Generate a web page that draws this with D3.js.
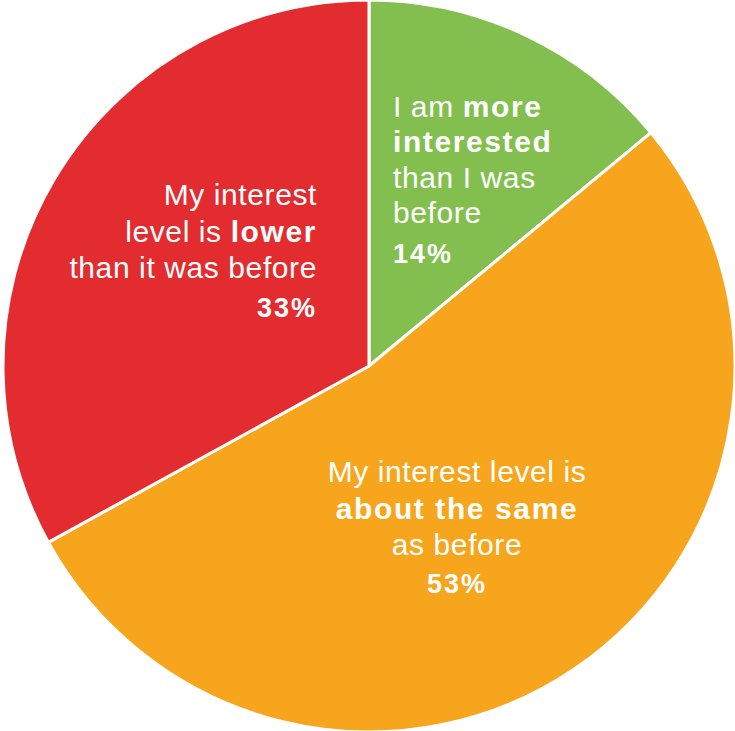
<!DOCTYPE html>
<html><head><meta charset="utf-8">
<script src="https://cdn.jsdelivr.net/npm/d3@7"></script>
<style>html,body{margin:0;padding:0;background:#fff;}svg{display:block;}</style>
</head><body>
<svg id="c" width="735" height="731"></svg>
<script>
const categories = ["more", "same", "lower"];
const values = [14, 53, 33];
const colors = ["#83BF4F", "#F7A51C", "#E22C2F"];
const labelLines = [
  [[["I am ", false], ["more", true]], [["interested", true]], [["than I was", false]], [["before", false]]],
  [[["My interest level is", false]], [["about the same", true]], [["as before", false]]],
  [[["My interest", false]], [["level is ", false], ["lower", true]], [["than it was before", false]]]
];
const pctLabels = ["14%", "53%", "33%"];

const svg = d3.select("#c");
const cx = 369, cy = 366, r = 366;
const g = svg.append("g").attr("transform", `translate(${cx},${cy})`);
const pie = d3.pie().sort(null).value(d => d)(values);
const arc = d3.arc().innerRadius(0).outerRadius(r);
g.selectAll("path").data(pie).join("path")
  .attr("d", arc).attr("fill", (d, i) => colors[i])
  .attr("stroke", "#fff").attr("stroke-width", 3).attr("stroke-linejoin", "round");

const font = "'Liberation Sans', Arial, Helvetica, sans-serif";
const layout = [
  {anchor: "start", x: 393, y0: 117, dy: 35.3, py: 263},
  {anchor: "middle", x: 457, y0: 482, dy: 36.5, py: 593},
  {anchor: "end", x: 317, y0: 205, dy: 36.5, py: 317}
];
labelLines.forEach((lines, i) => {
  const L = layout[i];
  lines.forEach((parts, j) => {
    const t = svg.append("text").attr("x", L.x).attr("y", L.y0 + j * L.dy)
      .attr("text-anchor", L.anchor).attr("fill", "#fff")
      .style("font-family", font).style("font-size", "30px");
    parts.forEach(p => t.append("tspan").text(p[0])
      .style("font-weight", p[1] ? "bold" : "normal")
      .style("letter-spacing", p[1] ? "1.6px" : "0.6px"));
  });
  svg.append("text").attr("x", L.x).attr("y", L.py).attr("text-anchor", L.anchor)
    .attr("fill", "#fff").style("font-family", font).style("font-size", "27px")
    .style("font-weight", "bold").style("letter-spacing", "2px").text(pctLabels[i]);
});
</script>
</body></html>
